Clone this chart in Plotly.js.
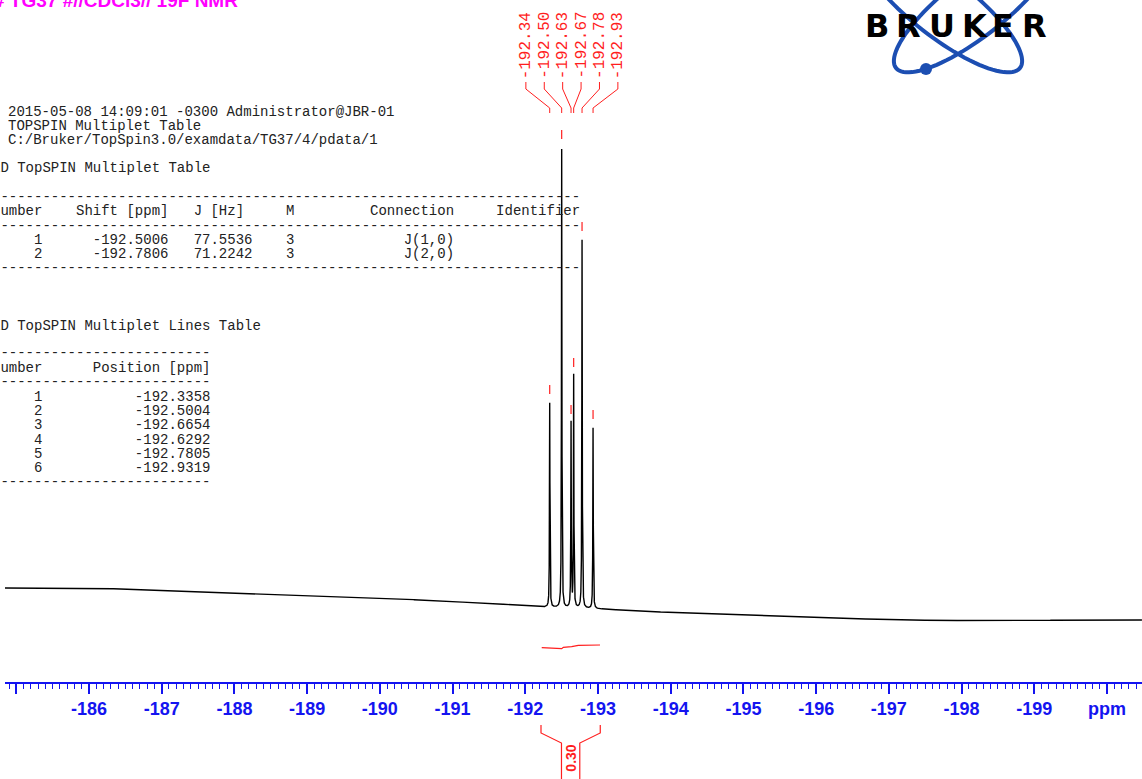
<!DOCTYPE html>
<html><head><meta charset="utf-8">
<script src="https://cdn.plot.ly/plotly-3.0.1.min.js"></script>
<style>html,body{margin:0;padding:0;background:#fff}#chart{width:1142px;height:779px}</style>
</head><body><div id="chart"></div>
<script>
// ---------------- data ----------------
const peakPpm    = [-192.3358, -192.5004, -192.6292, -192.6654, -192.7805, -192.9319];
const peakTop    = [279, 534, 259, 306, 442, 254];            // intensity (a.u.) at peak tops
const peakLabels = ['-192.34', '-192.50', '-192.63', '-192.67', '-192.78', '-192.93'];
const baselinePpm = [-184.845, -186.15, -187.53, -188.90, -190.28, -191.65, -192.20, -193.03, -194.40, -195.78, -197.16, -198.53, -199.91, -200.481];
const baselineVal = [94, 93.7, 90.3, 87, 83, 78, 75, 73, 68, 65, 62, 61, 62.5, 62];
const integralPpm = [-192.226, -192.385, -192.501, -192.523, -192.638, -192.729, -192.845, -193.028];
const integralVal = [34.3, 33.7, 33.3, 34.7, 35.3, 36.7, 37, 37];
const integralRange = [-192.216, -193.031];
const integralLabel = '0.30';
const tickVals = [-185, -186, -187, -188, -189, -190, -191, -192, -193, -194, -195, -196, -197, -198, -199, -200];
const tickText = ['', '-186', '-187', '-188', '-189', '-190', '-191', '-192', '-193', '-194', '-195', '-196', '-197', '-198', '-199', 'ppm'];
const titleText = '# TG37 #//CDCl3// 19F NMR';
const headerLines = ['2015-05-08 14:09:01 -0300 Administrator@JBR-01', 'TOPSPIN Multiplet Table', 'C:/Bruker/TopSpin3.0/examdata/TG37/4/pdata/1'];
const multNumber = [1, 2];
const multShift  = ['-192.5006', '-192.7806'];
const multJ      = ['77.5536', '71.2242'];
const multM      = [3, 3];
const multConn   = ['J(1,0)', 'J(2,0)'];
const lineNumber   = [1, 2, 3, 4, 5, 6];
const linePosition = ['-192.3358', '-192.5004', '-192.6654', '-192.6292', '-192.7805', '-192.9319'];

// ---------------- helpers ----------------
const W = 1142, H = 779, ML = 5, PW = W - ML;
const AXIS_PY = 682;
const px2paperX = px => (px - ML) / PW;
const py2paperY = py => (H - py) / H;
const inten = py => AXIS_PY - py;  // y data units = pixels above axis line
const RED = 'rgb(255,30,30)', BLUE = '#1414f0';

function baselineAt(x) {
  for (let i = 0; i < baselinePpm.length - 1; i++) {
    const a = baselinePpm[i], b = baselinePpm[i + 1];
    if (x <= a && x >= b) return baselineVal[i] + (baselineVal[i + 1] - baselineVal[i]) * (x - a) / (b - a);
  }
  return x > baselinePpm[0] ? baselineVal[0] : baselineVal[baselineVal.length - 1];
}
const gamma = 0.0035;
const amps = peakPpm.map((p, i) => peakTop[i] - baselineAt(p));
const sx = [], sy = [];
for (let x = -184.845; x >= -200.481; ) {
  let y = baselineAt(x);
  for (let i = 0; i < peakPpm.length; i++) { const d = (x - peakPpm[i]) / gamma; y += amps[i] / (1 + d * d); }
  sx.push(x); sy.push(y);
  x -= (x < -192.15 && x > -193.1) ? 0.0004 : 0.004;
}

const traces = [];
traces.push({x: sx, y: sy, type: 'scatter', mode: 'lines', line: {color: '#000', width: 1.4}, hoverinfo: 'skip'});
// integral curve
traces.push({x: integralPpm, y: integralVal, type: 'scatter', mode: 'lines', line: {color: RED, width: 1.2}, hoverinfo: 'skip'});

// peak pick leader lines
const sortedIdx = peakPpm.map((p, i) => i).sort((a, b) => peakPpm[b] - peakPpm[a]);
const meanPpm = peakPpm.reduce((s, v) => s + v, 0) / peakPpm.length;
const labelStep = 18.4 / 72.715;
const labelX = sortedIdx.map((_, k) => meanPpm + (2.5 - k) * labelStep);
sortedIdx.forEach((pi, k) => {
  traces.push({x: [labelX[k], labelX[k], peakPpm[pi], peakPpm[pi]], y: [inten(82), inten(89), inten(108), inten(113)],
    type: 'scatter', mode: 'lines', line: {color: RED, width: 1}, hoverinfo: 'skip'});
  traces.push({x: [peakPpm[pi], peakPpm[pi]], y: [peakTop[pi] + 9, peakTop[pi] + 18],
    type: 'scatter', mode: 'lines', line: {color: RED, width: 1.2}, hoverinfo: 'skip'});
});
// integral bracket
const ic = (integralRange[0] + integralRange[1]) / 2, iw = 9.15 / 72.715;
traces.push({x: [integralRange[0], integralRange[0], ic + iw, ic + iw], y: [inten(725), inten(733), inten(743), inten(790)],
  type: 'scatter', mode: 'lines', line: {color: RED, width: 1.2}, hoverinfo: 'skip'});
traces.push({x: [integralRange[1], integralRange[1], ic - iw, ic - iw], y: [inten(725), inten(733), inten(743), inten(790)],
  type: 'scatter', mode: 'lines', line: {color: RED, width: 1.2}, hoverinfo: 'skip'});

// ---------------- annotations ----------------
const nb = s => s.replace(/ /g, '\u00a0');
const MONO = 'Liberation Mono, Courier New, monospace';
const anns = [];
function textAt(px, py, text, font, extra) {
  anns.push(Object.assign({xref: 'paper', yref: 'paper', x: px2paperX(px - 2), y: py2paperY(py), xanchor: 'left', yanchor: 'middle',
    text: nb(text), showarrow: false, font: font}, extra || {}));
}
const monoFont = {family: MONO, size: 14, color: '#222'};
textAt(-6, 0, titleText, {family: 'Liberation Sans, Arial', size: 19, color: '#ff00ff', weight: 'bold'});
headerLines.forEach((l, i) => textAt(8.3, 112 + i * 14, l, monoFont));
const C0 = -8.35;
textAt(C0, 168, '1D TopSPIN Multiplet Table', monoFont);
const dash1 = '-'.repeat(70);
textAt(C0, 197, dash1, monoFont);
textAt(C0, 211, 'Number'.padEnd(10) + 'Shift [ppm]'.padEnd(14) + 'J [Hz]'.padEnd(11) + 'M'.padEnd(10) + 'Connection'.padEnd(15) + 'Identifier', monoFont);
textAt(C0, 226, dash1, monoFont);
multNumber.forEach((n, i) => textAt(C0, 240 + i * 14.2,
  String(n).padStart(6) + ''.padEnd(6) + multShift[i].padEnd(12) + multJ[i].padEnd(11) + String(multM[i]).padEnd(14) + multConn[i], monoFont));
textAt(C0, 268, dash1, monoFont);
textAt(C0, 326, '1D TopSPIN Multiplet Lines Table', monoFont);
const dash2 = '-'.repeat(26);
textAt(C0, 353, dash2, monoFont);
textAt(C0, 368, 'Number'.padEnd(12) + 'Position [ppm]', monoFont);
textAt(C0, 382, dash2, monoFont);
lineNumber.forEach((n, i) => textAt(C0, 397 + i * 14.2, String(n).padStart(6) + linePosition[i].padStart(20), monoFont));
textAt(C0, 482, dash2, monoFont);

// peak labels (rotated)
sortedIdx.forEach((pi, k) => {
  anns.push({xref: 'x', yref: 'y', x: labelX[k], y: inten(81), xanchor: 'center', yanchor: 'bottom', textangle: -90,
    text: peakLabels[k], showarrow: false, font: {family: MONO, size: 16, color: RED}});
});
// integral label
anns.push({xref: 'x', yref: 'y', x: ic, y: inten(758), xanchor: 'center', yanchor: 'middle', textangle: -90,
  text: integralLabel, showarrow: false, font: {family: 'Liberation Sans, Arial', size: 14, color: RED, weight: 'bold'}});

// Bruker logo letters
const logoLetters = ['B', 'R', 'U', 'K', 'E', 'R'];
const logoX = [876.5, 908.5, 941.5, 974.5, 1003, 1034];
logoLetters.forEach((c, i) => anns.push({xref: 'paper', yref: 'paper', x: px2paperX(logoX[i]), y: py2paperY(26), xanchor: 'center', yanchor: 'middle',
  text: c, showarrow: false, font: {family: 'DejaVu Sans', size: 32, color: '#000', weight: 'bold'}}));

// ---------------- shapes (logo orbits) ----------------
function ellipsePath(tx, ty, phiDeg, a, b) {
  const ph = phiDeg * Math.PI / 180;
  const u = [Math.cos(ph), -Math.sin(ph)], v = [Math.sin(ph), Math.cos(ph)];
  const cx = tx + a * u[0], cy = ty + a * u[1];
  let d = '';
  for (let k = 0; k <= 96; k++) {
    const t = k / 96 * 2 * Math.PI;
    const px = cx + a * Math.cos(t) * u[0] + b * Math.sin(t) * v[0];
    const py = cy + a * Math.cos(t) * u[1] + b * Math.sin(t) * v[1];
    d += (k === 0 ? 'M' : 'L') + px2paperX(px).toFixed(5) + ',' + py2paperY(py).toFixed(5);
  }
  return d + 'Z';
}
const ORB = 'rgb(28,78,178)';
const shapes = [
  {type: 'path', xref: 'paper', yref: 'paper', path: ellipsePath(896, 68, 38, 100, 30), line: {color: ORB, width: 4}, layer: 'below'},
  {type: 'path', xref: 'paper', yref: 'paper', path: ellipsePath(1020, 68, 142, 100, 30), line: {color: ORB, width: 4}, layer: 'below'},
  {type: 'circle', xref: 'paper', yref: 'paper', x0: px2paperX(920), x1: px2paperX(932), y0: py2paperY(75), y1: py2paperY(63),
    fillcolor: ORB, line: {width: 0}, layer: 'below'}
];

const minorVals = [];
for (let k = 1848; k <= 2004; k++) { if (k % 10 !== 0) minorVals.push(-k / 10); }

const layout = {
  width: W, height: H, margin: {l: ML, r: 0, t: 0, b: 0}, paper_bgcolor: '#fff', plot_bgcolor: '#fff', showlegend: false,
  xaxis: {range: [-184.845, -200.481], domain: [0, 1], anchor: 'free', position: (H - AXIS_PY) / H,
    showline: true, linecolor: BLUE, linewidth: 1.5, ticks: 'outside', ticklen: 10, tickwidth: 2, tickcolor: BLUE,
    tickmode: 'array', tickvals: tickVals, ticktext: tickText,
    tickfont: {family: 'Liberation Sans, Arial', size: 18, color: BLUE, weight: 'bold'},
    showgrid: false, zeroline: false,
    minor: {tickmode: 'array', tickvals: minorVals, ticks: 'outside', ticklen: 5, tickwidth: 1, tickcolor: BLUE, showgrid: false}},
  yaxis: {range: [-97, 682], domain: [0, 1], visible: false, showgrid: false, zeroline: false},
  annotations: anns, shapes: shapes
};
Plotly.newPlot('chart', traces, layout, {displayModeBar: false, staticPlot: true});
</script></body></html>
